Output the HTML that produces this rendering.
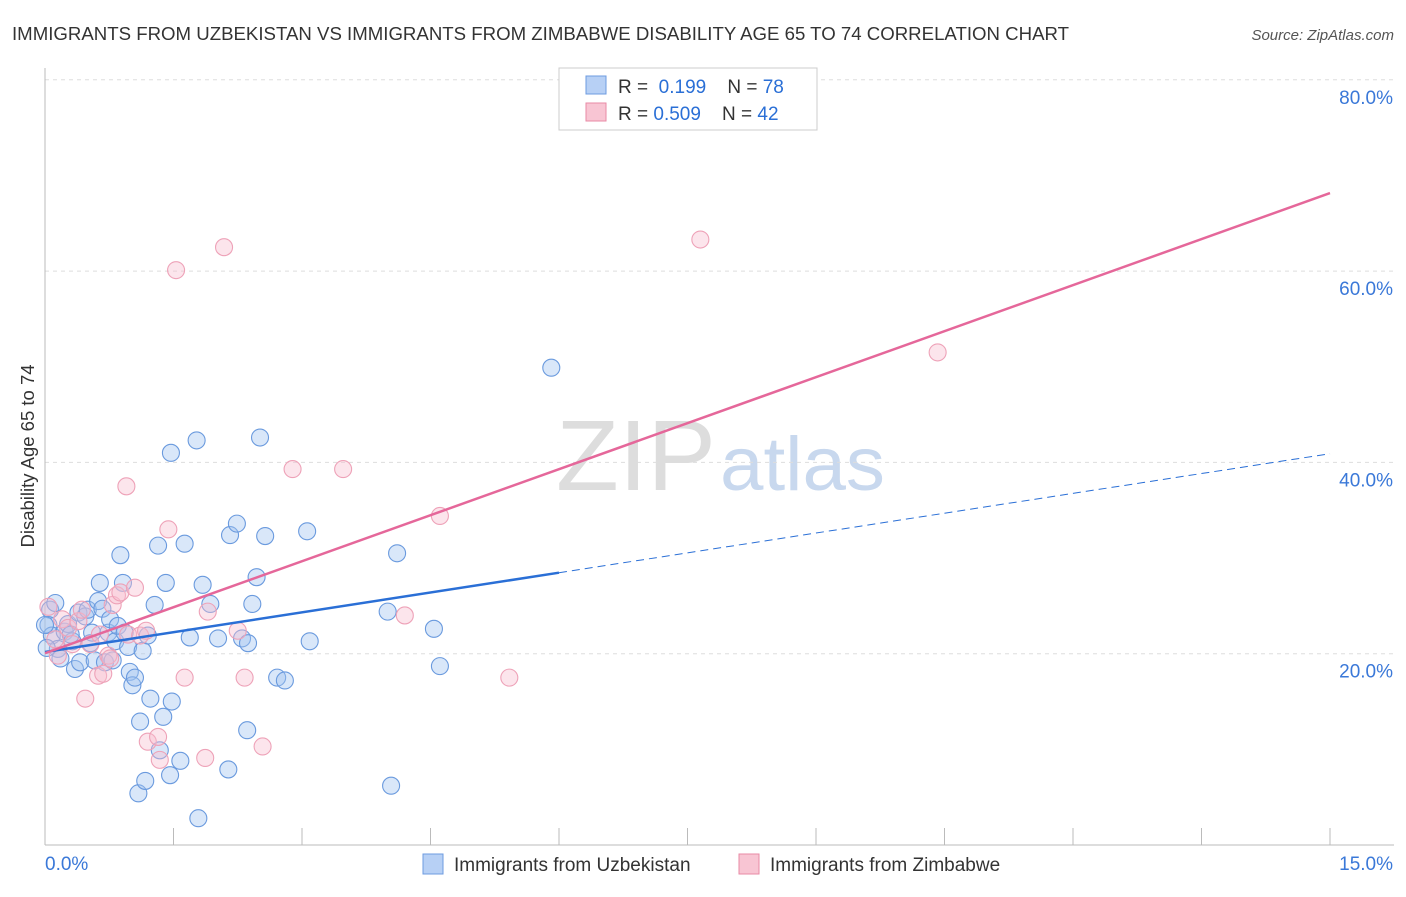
<!DOCTYPE html>
<html><head><meta charset="utf-8"><style>
body{margin:0;background:#fff;font-family:"Liberation Sans",sans-serif;}
svg text{font-family:"Liberation Sans",sans-serif;}
</style></head><body>
<svg id="chart" width="1406" height="892">
<text x="12" y="40" font-size="18" fill="#333" textLength="1057" lengthAdjust="spacingAndGlyphs">IMMIGRANTS FROM UZBEKISTAN VS IMMIGRANTS FROM ZIMBABWE DISABILITY AGE 65 TO 74 CORRELATION CHART</text>
<text x="1394" y="40" font-size="15" fill="#555" text-anchor="end" font-style="italic">Source: ZipAtlas.com</text>
<text x="0" y="0" transform="translate(34,456) rotate(-90)" font-size="18.5" fill="#333" text-anchor="middle">Disability Age 65 to 74</text>
<text x="716" y="490" font-size="100" fill="#ddd" text-anchor="end" font-family="Liberation Serif" textLength="160" lengthAdjust="spacingAndGlyphs">ZIP</text>
<text x="720" y="490" font-size="76" fill="#c8d8ee" textLength="165" lengthAdjust="spacingAndGlyphs">atlas</text>
<g id="grid"></g><g id="axes"></g><g id="pts"></g><g id="lines"></g>
<g>
<rect x="559" y="68" width="258" height="62" fill="#fff" stroke="#ccc"/>
<rect x="586" y="76" width="20" height="18" fill="#b7d0f5" stroke="#6d9be0"/>
<text x="618" y="93" font-size="19" fill="#333">R = <tspan fill="#2a6fd6">&#160;0.199</tspan>&#160;&#160;&#160;&#160;N = <tspan fill="#2a6fd6">78</tspan></text>
<rect x="586" y="103" width="20" height="18" fill="#f8c5d3" stroke="#e88aa6"/>
<text x="618" y="120" font-size="19" fill="#333">R = <tspan fill="#2a6fd6">0.509</tspan>&#160;&#160;&#160;&#160;N = <tspan fill="#2a6fd6">42</tspan></text>
</g>
<g>
<rect x="423" y="854" width="20" height="20" fill="#b7d0f5" stroke="#6d9be0"/>
<text x="454" y="871" font-size="19" fill="#333">Immigrants from Uzbekistan</text>
<rect x="739" y="854" width="20" height="20" fill="#f8c5d3" stroke="#e88aa6"/>
<text x="770" y="871" font-size="19" fill="#333">Immigrants from Zimbabwe</text>
</g>
</svg>
<script>
const yTicks=[20,40,60,80];
const xTickLabels=["0.0%","15.0%"];
const blueX=[0.06,0.12,0.04,0.08,0.15,0.18,0.23,0.27,0.32,0.35,0.39,0.41,0.47,0.5,0.53,0.55,0.58,0.62,0.64,0.67,0.7,0.74,0.76,0.79,0.82,0.85,0.88,0.91,0.93,0.97,0.99,1.02,1.05,1.09,1.11,1.14,1.17,1.2,1.23,1.28,1.32,1.34,1.38,1.41,1.46,1.47,1.48,1.58,1.63,1.69,1.77,1.79,1.84,1.93,2.02,2.14,2.16,2.24,2.3,2.36,2.37,2.42,2.47,2.51,2.57,2.71,2.8,3.06,3.09,4.0,4.04,4.11,4.54,4.61,5.91,0.0,0.02,0.3];
const blueY=[24.6,25.3,23.0,21.9,20.5,19.5,22.3,23.1,21.3,18.4,24.3,19.1,23.9,24.6,21.1,22.2,19.3,25.5,27.4,24.7,19.1,22.2,23.6,19.3,21.3,22.9,30.3,27.4,22.2,20.7,18.1,16.7,17.5,5.4,12.9,20.3,6.7,21.9,15.3,25.1,31.3,9.9,13.4,27.4,7.3,41.0,15.0,8.8,31.5,21.7,42.3,2.8,27.2,25.2,21.6,7.9,32.4,33.6,21.6,12.0,21.1,25.2,28.0,42.6,32.3,17.5,17.2,32.8,21.3,24.4,6.2,30.5,22.6,18.7,49.9,23.0,20.6,22.0];
const pinkX=[0.04,0.12,0.2,0.27,0.32,0.39,0.43,0.47,0.53,0.62,0.68,0.74,0.76,0.79,0.84,0.88,0.95,0.97,1.05,1.11,1.18,1.2,1.32,1.34,1.44,1.53,1.63,1.87,1.9,2.09,2.25,2.33,2.54,2.89,3.48,4.2,4.61,5.42,7.65,10.42,0.15,0.64];
const pinkY=[24.9,21.5,23.6,22.7,21.0,23.4,24.6,15.3,21.0,17.7,17.9,19.8,19.5,25.1,26.1,26.4,37.5,22.0,26.9,21.9,22.4,10.8,11.3,8.9,33.0,60.1,17.5,9.1,24.4,62.5,22.4,17.5,10.3,39.3,39.3,24.0,34.4,17.5,63.3,51.5,19.8,22.0];
const NS="http://www.w3.org/2000/svg";
const X0=45,X1=1330,YB=845,YPX=9.565;
function xs(v){return X0+v/15*(X1-X0);}
function ys(v){return YB-v*YPX;}
function mk(tag,attrs,parent){const e=document.createElementNS(NS,tag);for(const k in attrs)e.setAttribute(k,attrs[k]);document.getElementById(parent).appendChild(e);return e;}
yTicks.forEach(t=>{
 const l=mk('line',{x1:X0,x2:1394,y1:ys(t),y2:ys(t),stroke:'#ddd','stroke-dasharray':'4,4'},'grid');
 
 
 const tx=mk('text',{x:1393,y:ys(t)+24,'font-size':19,fill:'#3a78d8','text-anchor':'end'},'grid');
 tx.textContent=t.toFixed(1)+'%';
 
 
});
mk('line',{x1:X0,x2:X0,y1:68,y2:YB,stroke:'#bbb'},'axes');
mk('line',{x1:X0,x2:1394,y1:YB,y2:YB,stroke:'#bbb'},'axes');
for(let i=1;i<=10;i++){const x=xs(i*1.5);const t=mk('line',{x1:x,x2:x,y1:828,y2:YB,stroke:'#bbb'},'axes');}
const a=mk('text',{x:45,y:870,'font-size':19,fill:'#3a78d8'},'axes');a.textContent=xTickLabels[0];

const b=mk('text',{x:1393,y:870,'font-size':19,fill:'#3a78d8','text-anchor':'end'},'axes');b.textContent=xTickLabels[1];

blueX.forEach((v,i)=>{const c=mk('circle',{cx:xs(v),cy:ys(blueY[i]),r:8.5,fill:'rgba(160,195,240,0.4)',stroke:'#6a9ade','stroke-width':1.1},'pts');
 });
pinkX.forEach((v,i)=>{const c=mk('circle',{cx:xs(v),cy:ys(pinkY[i]),r:8.5,fill:'rgba(248,190,208,0.4)',stroke:'#eea2b8','stroke-width':1.1},'pts');
 });
function fit(X,Y){const n=X.length;let mx=0,my=0;X.forEach((v,i)=>{mx+=v;my+=Y[i];});mx/=n;my/=n;let sxy=0,sxx=0;X.forEach((v,i)=>{sxy+=(v-mx)*(Y[i]-my);sxx+=(v-mx)**2;});const s=sxy/sxx;return [my-s*mx,s];}
const bf=fit(blueX,blueY), pf=fit(pinkX,pinkY);
let l1=mk('line',{x1:xs(0),y1:ys(bf[0]),x2:xs(6),y2:ys(bf[0]+bf[1]*6),stroke:'#2a6fd6','stroke-width':2.5},'lines');

let l2=mk('line',{x1:xs(6),y1:ys(bf[0]+bf[1]*6),x2:xs(15),y2:ys(bf[0]+bf[1]*15),stroke:'#2a6fd6','stroke-width':1,'stroke-dasharray':'8,5'},'lines');

let l3=mk('line',{x1:xs(0),y1:ys(pf[0]),x2:xs(15),y2:ys(pf[0]+pf[1]*15),stroke:'#e5679a','stroke-width':2.5},'lines');

</script>
</body></html>
